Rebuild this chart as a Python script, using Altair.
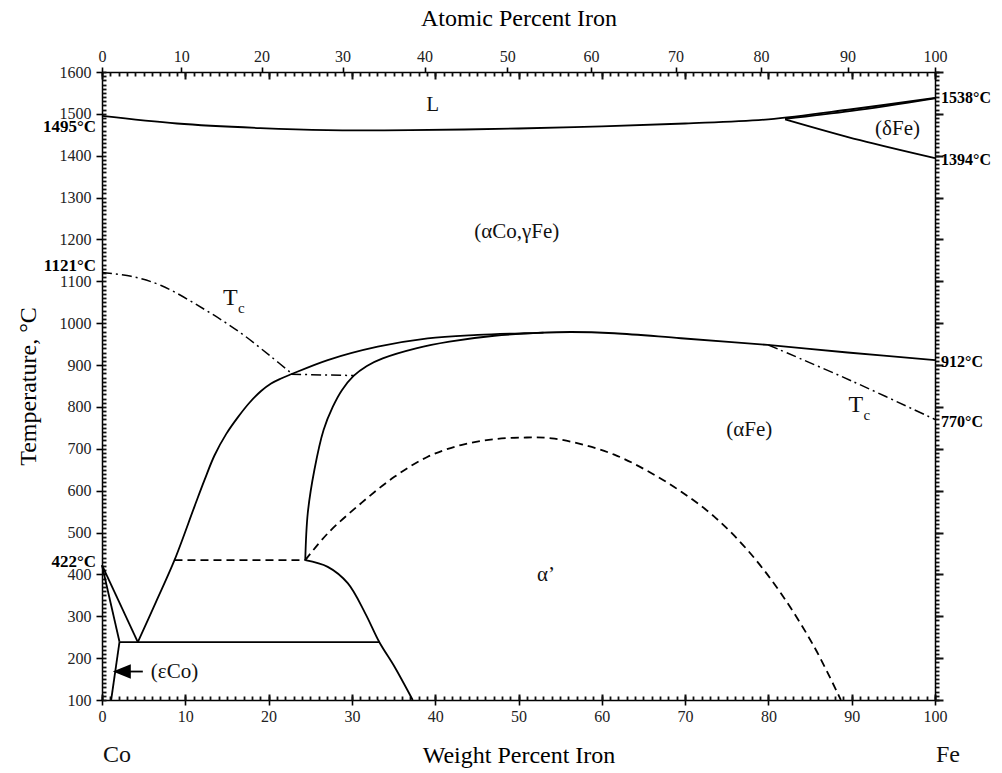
import altair as alt
import pandas as pd

FONT = "Liberation Serif"

# ---------------- data: (wt.% Fe, temperature °C) ----------------
liq_wt = [0, 9, 19, 27, 37, 50, 60, 70, 80, 90, 100]
liq_T = [1495, 1477, 1466, 1461, 1461, 1465, 1470, 1477, 1487, 1511, 1538]
dsol_wt = [82, 90, 100]
dsol_T = [1488, 1507, 1537]
dlow_wt = [82, 91, 100]
dlow_T = [1487, 1437, 1394]
gam_wt = [4.3, 6.5, 8.7, 11.1, 12.3, 13.5, 14.9, 16.3, 17.7, 19.1, 20.3, 21.5, 22.7, 27.1, 33.1,
          39.1, 45.1, 50.7, 56.3, 61.5, 69.5, 79.9, 89.5, 100]
gam_T = [238, 335, 434, 562, 625, 684, 735, 775, 810, 838, 856, 868, 878, 912, 944,
         964, 972, 976, 979, 976, 964, 948, 930, 912]
alp_wt = [24.4, 24.7, 25.5, 26.6, 27.7, 28.8, 30.2, 31.8, 33.7, 37.7, 41.7, 47.1, 53]
alp_T = [434, 546, 650, 745, 800, 840, 874, 898, 916, 940, 956, 970, 977.5]
lowr_wt = [24.4, 27.1, 29.5, 31.6, 33.3, 35.1, 37.3]
lowr_T = [434, 418, 379, 307, 238, 180, 100]
ord_wt = [24.4, 27.1, 31.1, 35.1, 39.1, 43.1, 47.1, 51, 54, 57.5, 61.5, 65.5, 69.5, 73.5,
          77.5, 81.5, 85.5, 88.7]
ord_T = [434, 498, 570, 633, 681, 709, 723, 727, 725, 711, 686, 647, 598, 538,
         458, 355, 227, 100]
tcl_wt = [0, 3.5, 7.1, 12.3, 16.7, 20.3, 22.7]
tcl_T = [1121, 1112, 1090, 1033, 976, 920, 881]
tch_wt = [22.7, 30.2]
tch_T = [878, 875]
tcr_wt = [80, 90, 100]
tcr_T = [948, 862, 770]
eps1_wt = [0, 4.3]
eps1_T = [422, 238]
eps2_wt = [0, 2.1]
eps2_T = [422, 239]
eps3_wt = [2.1, 1.1]
eps3_T = [239, 100]
eut_wt = [2.1, 33.3]
eut_T = [238, 238]
dash_h_wt = [8.7, 24.4]
dash_h_T = [434, 434]
arrow_wt = [2.6, 4.9]
arrow_T = [168, 168]
arrow_tip_wt = [1.3]
arrow_tip_T = [168]

segments = [
    ("liq", "solid", liq_wt, liq_T),
    ("dsol", "solid", dsol_wt, dsol_T),
    ("dlow", "solid", dlow_wt, dlow_T),
    ("gam", "solid", gam_wt, gam_T),
    ("alp", "solid", alp_wt, alp_T),
    ("lowr", "solid", lowr_wt, lowr_T),
    ("eps1", "solid", eps1_wt, eps1_T),
    ("eps2", "solid", eps2_wt, eps2_T),
    ("eps3", "solid", eps3_wt, eps3_T),
    ("eut", "solid", eut_wt, eut_T),
    ("arrow", "solid", arrow_wt, arrow_T),
    ("ord", "dash", ord_wt, ord_T),
    ("dash_h", "dash", dash_h_wt, dash_h_T),
    ("tcl", "dashdot", tcl_wt, tcl_T),
    ("tch", "dashdot", tch_wt, tch_T),
    ("tcr", "dashdot", tcr_wt, tcr_T),
]
rows = []
for name, style, ws, ts in segments:
    for i, (w, t) in enumerate(zip(ws, ts)):
        rows.append({"seg": name, "style": style, "wt": w, "T": t, "i": i})
lines = pd.DataFrame(rows)

# phase labels
phase_text = ["L", "(δFe)", "(αCo,γFe)", "(αFe)", "α’", "(εCo)"]
phase_wt = [39.7, 95.5, 49.8, 77.7, 53.3, 8.7]
phase_T = [1521, 1465, 1218, 745, 399, 168]
tc_wt = [15.4, 90.5]
tc_T = [1059, 805]
left_text = ["1495°C", "1121°C", "422°C"]
left_T = [1468, 1136, 430]
right_text = ["1538°C", "1394°C", "912°C", "770°C"]
right_T = [1537, 1390, 907, 765]
end_text = ["Co", "Fe"]
end_wt = [0, 100]
end_T = [-31, -31]

M_FE, M_CO = 55.845, 58.933
atomic_labels = list(range(0, 101, 10))
atomic_pos = [100 * a * M_FE / (a * M_FE + (100 - a) * M_CO) for a in atomic_labels]
label_expr = ("round(100*(datum.value/55.845)/(datum.value/55.845+(100-datum.value)/58.933))")

wt_major = list(range(0, 101, 10))
wt_minor = list(range(0, 101, 1))
t_major = list(range(100, 1601, 100))
t_minor = list(range(100, 1601, 10))

xs = alt.Scale(domain=[0, 100], nice=False, zero=False)
ys = alt.Scale(domain=[100, 1600], nice=False, zero=False)


def tick_axis(orient, values, size, inward=False, domain=False, width=1.8):
    # inward ticks: a negative tick length draws the ticks into the plot area
    ts = {"expr": str(-size)} if inward else size
    return alt.Axis(orient=orient, values=values, tickSize=ts,
                    domain=domain, domainColor="black", domainWidth=1.5,
                    labels=False, title=None, grid=False, ticks=True,
                    tickColor="#111", tickWidth=width, tickOpacity=1)


x_main = alt.Axis(orient="bottom", values=wt_major, tickSize=5, tickColor="black", tickWidth=1.6,
                  domain=True, domainColor="black", domainWidth=1.5, labels=True,
                  labelFont=FONT, labelFontSize=16, labelColor="#222", labelPadding=3,
                  labelFlush=False, labelOverlap=False, format="d",
                  title="Weight Percent Iron", titleFont=FONT, titleFontSize=24,
                  titleFontWeight="normal", titleColor="black", titlePadding=19, grid=False)
y_main = alt.Axis(orient="left", values=t_major, tickSize=6, tickColor="black", tickWidth=1.6,
                  domain=True, domainColor="black", domainWidth=1.5, labels=True,
                  labelFont=FONT, labelFontSize=16, labelColor="#222", labelPadding=5,
                  labelFlush=False, labelOverlap=False, format="d",
                  title="Temperature, °C", titleFont=FONT, titleFontSize=24,
                  titleFontWeight="normal", titleColor="black", titlePadding=19, grid=False)
x_top = alt.Axis(orient="top", values=atomic_pos, labelExpr=label_expr, tickSize=5,
                 tickColor="black", tickWidth=1.6, domain=True, domainColor="black",
                 domainWidth=1.5, labels=True, labelFont=FONT, labelFontSize=16,
                 labelColor="#222", labelPadding=3, labelFlush=False, labelOverlap=False,
                 title="Atomic Percent Iron", titleFont=FONT, titleFontSize=24,
                 titleFontWeight="normal", titleColor="black", titlePadding=18, grid=False)

carrier = pd.DataFrame({"wt": [0, 100], "T": [100, 1600]})


def carrier_layer(xaxis, yaxis):
    return alt.Chart(carrier).mark_point(opacity=0).encode(
        x=alt.X("wt:Q", scale=xs, axis=xaxis),
        y=alt.Y("T:Q", scale=ys, axis=yaxis),
    )


axes_layers = [
    carrier_layer(x_main, y_main),
    carrier_layer(tick_axis("bottom", wt_minor, 4, inward=True),
                  tick_axis("left", t_minor, 4, inward=True)),
    carrier_layer(tick_axis("bottom", wt_major, 6, inward=True, width=2),
                  tick_axis("right", t_minor, 4, domain=True)),
    carrier_layer(x_top, tick_axis("right", t_major, 8, width=2)),
    carrier_layer(tick_axis("top", wt_minor, 4, inward=True), None),
    carrier_layer(tick_axis("top", wt_major, 7, inward=True, width=2), None),
]

X = alt.X("wt:Q", scale=xs, axis=None)
Y = alt.Y("T:Q", scale=ys, axis=None)

solid = alt.Chart(lines[lines["style"] == "solid"]).mark_line(
    interpolate="catmull-rom", color="black", strokeWidth=1.8
).encode(x=X, y=Y, detail="seg:N", order="i:Q")
dash = alt.Chart(lines[lines["style"] == "dash"]).mark_line(
    interpolate="catmull-rom", color="black", strokeWidth=1.8, strokeDash=[8, 5]
).encode(x=X, y=Y, detail="seg:N", order="i:Q")
dashdot = alt.Chart(lines[lines["style"] == "dashdot"]).mark_line(
    interpolate="catmull-rom", color="black", strokeWidth=1.5, strokeDash=[10, 4, 2, 4]
).encode(x=X, y=Y, detail="seg:N", order="i:Q")

arrow_head = alt.Chart(pd.DataFrame({"wt": arrow_tip_wt, "T": arrow_tip_T})).mark_point(
    shape="M0,0L2,-0.8L2,0.8Z", filled=True, size=324, color="black", opacity=1
).encode(x=X, y=Y)

phases = alt.Chart(pd.DataFrame({"t": phase_text, "wt": phase_wt, "T": phase_T})).mark_text(
    font=FONT, fontSize=21, color="#111", baseline="middle", align="center"
).encode(x=X, y=Y, text="t:N")

tc_T_text = alt.Chart(pd.DataFrame({"wt": tc_wt, "T": tc_T, "t": ["T", "T"]})).mark_text(
    font=FONT, fontSize=24, color="#111", baseline="middle", align="center"
).encode(x=X, y=Y, text="t:N")
tc_c_text = alt.Chart(pd.DataFrame({"wt": tc_wt, "T": tc_T, "t": ["c", "c"]})).mark_text(
    font=FONT, fontSize=15, color="#111", baseline="middle", align="center", dx=11, dy=10
).encode(x=X, y=Y, text="t:N")

left_lab = alt.Chart(pd.DataFrame({"t": left_text, "T": left_T, "wt": [0] * len(left_T)})).mark_text(
    font=FONT, fontSize=17, fontWeight="bold", color="black", align="right", baseline="middle", dx=-6
).encode(x=X, y=Y, text="t:N")
right_lab = alt.Chart(pd.DataFrame({"t": right_text, "T": right_T, "wt": [100] * len(right_T)})).mark_text(
    font=FONT, fontSize=16, fontWeight="bold", color="black", align="left", baseline="middle", dx=6
).encode(x=X, y=Y, text="t:N")
ends = alt.Chart(pd.DataFrame({"t": end_text, "wt": end_wt, "T": end_T})).mark_text(
    font=FONT, fontSize=24, color="#111", align="left", baseline="middle", dx=1
).encode(x=X, y=Y, text="t:N")

chart = alt.layer(
    *axes_layers, solid, dash, dashdot, arrow_head, phases, tc_T_text, tc_c_text,
    left_lab, right_lab, ends
).resolve_axis(x="independent", y="independent").properties(
    width=833, height=628,
    autosize=alt.AutoSizeParams(type="none"),
    padding={"left": 102, "top": 72, "right": 67, "bottom": 73},
    background="white",
).configure_view(stroke=None)

chart.save("out.html", embed_options={"renderer": "svg", "actions": False})
